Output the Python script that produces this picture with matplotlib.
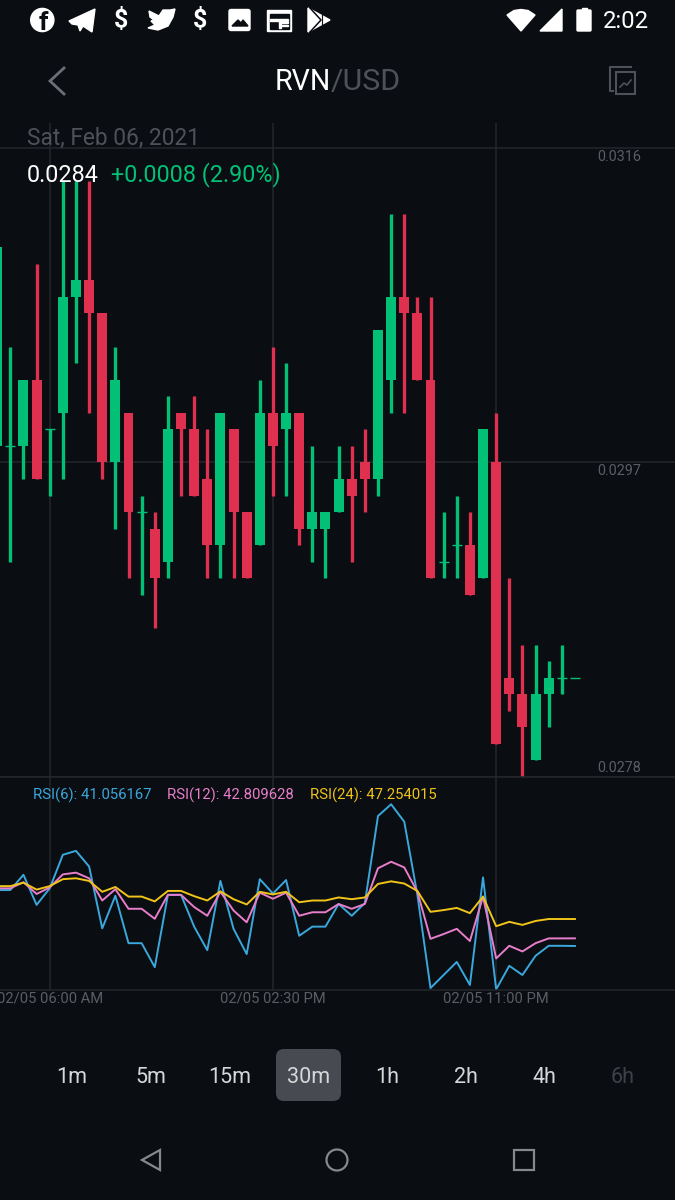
"""
RVN/USD 30m candles with RSI, dark mobile app screen
"""
import matplotlib

matplotlib.use("Agg")
import matplotlib.pyplot as plt
from matplotlib.patches import Circle, FancyBboxPatch, Polygon, Rectangle

plt.rcParams["font.family"] = ["Roboto", "DejaVu Sans"]

# candles, oldest first
opens = [0.0298, 0.0298, 0.0298, 0.0302, 0.0299, 0.0300, 0.0307, 0.0308, 0.0306, 0.0297, 0.0300,
         0.0294, 0.0293, 0.0291, 0.0300, 0.0299, 0.0296, 0.0292, 0.0299, 0.0294, 0.0292, 0.0300,
         0.0299, 0.0300, 0.0293, 0.0293, 0.0294, 0.0296, 0.0297, 0.0296, 0.0302, 0.0307, 0.0306,
         0.0302, 0.0291, 0.0292, 0.0292, 0.0290, 0.0297, 0.0284, 0.0283, 0.0279, 0.0283, 0.0284,
         0.0284]
closes = [0.0310, 0.0298, 0.0302, 0.0296, 0.0299, 0.0307, 0.0308, 0.0306, 0.0297, 0.0302, 0.0294,
          0.0294, 0.0290, 0.0299, 0.0299, 0.0295, 0.0292, 0.0300, 0.0294, 0.0290, 0.0300, 0.0298,
          0.0300, 0.0293, 0.0294, 0.0294, 0.0296, 0.0295, 0.0296, 0.0305, 0.0307, 0.0306, 0.0302,
          0.0290, 0.0291, 0.0292, 0.0289, 0.0299, 0.0280, 0.0283, 0.0281, 0.0283, 0.0284, 0.0284,
          0.0284]
highs = [0.0310, 0.0304, 0.0302, 0.0309, 0.0299, 0.0314, 0.0314, 0.0314, 0.0306, 0.0304, 0.0300,
         0.0295, 0.0294, 0.0301, 0.0300, 0.0301, 0.0299, 0.0300, 0.0299, 0.0294, 0.0302, 0.0304,
         0.0303, 0.0300, 0.0298, 0.0294, 0.0298, 0.0298, 0.0299, 0.0305, 0.0312, 0.0312, 0.0307,
         0.0307, 0.0294, 0.0295, 0.0294, 0.0299, 0.0300, 0.0290, 0.0286, 0.0286, 0.0285, 0.0286,
         0.0284]
lows = [0.0298, 0.0291, 0.0296, 0.0296, 0.0295, 0.0296, 0.0303, 0.0300, 0.0296, 0.0293, 0.0290,
        0.0289, 0.0287, 0.0290, 0.0295, 0.0295, 0.0290, 0.0290, 0.0290, 0.0290, 0.0292, 0.0295,
        0.0295, 0.0292, 0.0291, 0.0290, 0.0294, 0.0291, 0.0294, 0.0295, 0.0300, 0.0300, 0.0302,
        0.0290, 0.0290, 0.0290, 0.0289, 0.0290, 0.0280, 0.0282, 0.0278, 0.0279, 0.0281, 0.0283,
        0.0284]

rsi6 = [53.9, 53.9, 57.4, 50.5, 54.3, 62.0, 62.9, 59.3, 45.1, 52.6, 41.7, 41.7, 36.2, 52.8, 52.8,
        45.5, 40.1, 56.0, 45.0, 39.2, 56.4, 53.1, 56.2, 43.4, 45.5, 45.5, 50.7, 48.0, 50.9, 70.9,
        73.6, 69.6, 52.8, 31.4, 34.4, 37.4, 32.1, 56.8, 31.1, 36.5, 34.4, 38.8, 41.1, 41.1, 41.056]
rsi12 = [54.3, 54.3, 55.7, 53.0, 54.5, 57.5, 57.9, 56.6, 51.5, 54.1, 49.6, 49.6, 47.3, 52.8, 52.8,
         50.0, 48.0, 53.5, 49.2, 46.5, 53.3, 51.9, 53.3, 48.0, 48.8, 48.8, 50.7, 49.6, 50.7, 58.9,
         60.4, 59.1, 53.5, 42.7, 43.8, 45.0, 42.2, 52.4, 38.2, 41.1, 39.8, 41.7, 42.8, 42.8, 42.81]
rsi24 = [54.8, 54.8, 55.6, 54.0, 54.8, 56.4, 56.6, 56.0, 53.5, 54.6, 52.4, 52.4, 51.3, 53.7, 53.7,
         52.5, 51.5, 53.6, 51.8, 50.6, 53.5, 52.9, 53.5, 51.1, 51.5, 51.5, 52.2, 51.8, 52.2, 55.3,
         55.9, 55.4, 53.7, 48.9, 49.3, 49.8, 48.6, 52.4, 45.6, 46.6, 45.9, 46.8, 47.25, 47.25, 47.25]

price_ticks = [0.0316, 0.0297, 0.0278]
price_tick_labels = ["0.0316", "0.0297", "0.0278"]
time_ticks = [4, 21, 38]
time_tick_labels = ["02/05 06:00 AM", "02/05 02:30 PM", "02/05 11:00 PM"]
intervals = ["1m", "5m", "15m", "30m", "1h", "2h", "4h", "6h"]

BG = "#0a0d11"
GRID = "#24272c"
GREEN = "#02c076"
RED = "#e0304f"
GRAY = "#5a5d63"
DIM = "#4e5158"
ICON = "#6c6f75"
WHITE = "#ffffff"
W, H = 675, 1200
XLIM = (0.213, 51.62)


def px_axes(fig, top, bottom):
    return fig.add_axes([0, 1 - bottom / H, 1, (bottom - top) / H])


def draw_candles(ax):
    xs = range(len(opens))
    for i in xs:
        color = GREEN if closes[i] >= opens[i] else RED
        ax.vlines(i, lows[i], highs[i], color=color, linewidth=2.4, zorder=3)
        if opens[i] == closes[i]:
            ax.hlines(opens[i], i - 0.38, i + 0.38, color=color, linewidth=1.0, zorder=3)
        else:
            ax.bar(i, abs(closes[i] - opens[i]), width=0.76, bottom=min(opens[i], closes[i]),
                   color=color, linewidth=0, zorder=3)


def draw_status_icons(ui):
    # left notification icons
    ui.add_patch(Circle((42.3, 20), 11.6, color=WHITE))
    ui.text(43.5, 22.5, "f", color=BG, fontsize=19, fontweight="bold", ha="center", va="center")
    ui.add_patch(Polygon([(69, 21), (95, 9), (92, 32), (83, 26), (80, 31), (78, 25), (72, 24)], color=WHITE))
    ui.text(121, 20.5, "$", color=WHITE, fontsize=18, fontweight="bold", ha="center", va="center")
    ui.add_patch(Polygon([(149, 11), (159, 16), (163, 10), (170, 10), (175, 9), (173, 17), (168, 26),
                          (158, 30), (148, 28), (155, 25), (151, 21), (154, 20), (150, 17)], color=WHITE))
    ui.text(200, 20.5, "$", color=WHITE, fontsize=18, fontweight="bold", ha="center", va="center")
    ui.add_patch(FancyBboxPatch((229, 9.5), 21, 21, boxstyle="round,pad=0,rounding_size=2", color=WHITE))
    ui.add_patch(Polygon([(232, 26), (238, 20), (241, 23), (243, 20), (248, 26)], color=BG))
    ui.add_patch(Rectangle((267, 9.5), 24, 21, color=WHITE))
    ui.add_patch(Rectangle((269.5, 14), 19, 14.5, color=BG))
    ui.add_patch(Rectangle((270, 19), 18, 1.6, color=WHITE))
    ui.add_patch(Rectangle((279, 20), 1.6, 8, color=WHITE))
    ui.add_patch(Rectangle((282, 22), 6, 1.2, color=WHITE))
    ui.add_patch(Rectangle((282, 25), 6, 1.2, color=WHITE))
    ui.add_patch(Polygon([(308, 8), (330, 20), (308, 32)], color=WHITE))
    ui.plot([310, 321, 310], [8, 20, 32], color=BG, linewidth=1.1)
    ui.plot([322, 322], [14, 26], color=BG, linewidth=0.8)
    # right side indicators
    ui.add_patch(Polygon([(507, 15), (514, 10.5), (521, 9.5), (528, 10.5), (535, 15), (521, 31)], color=WHITE))
    ui.add_patch(Polygon([(540, 31), (562, 9), (562, 31)], color=WHITE))
    ui.add_patch(FancyBboxPatch((577, 10), 14, 21, boxstyle="round,pad=0,rounding_size=1", color=WHITE))
    ui.add_patch(Rectangle((582, 7.5), 5, 3, color=WHITE))
    ui.text(626, 21.5, "2:02", color=WHITE, fontsize=17.2, ha="center", va="center")


def draw_header(ui):
    ui.plot([64, 50, 64], [68, 81, 94], color=ICON, linewidth=2, solid_joinstyle="miter")
    ui.text(330.5, 82, "RVN", color=WHITE, fontsize=20.6, ha="right", va="center")
    ui.text(330.5, 82, "/USD", color=DIM, fontsize=21.8, ha="left", va="center")
    ui.plot([613, 610, 610, 631], [91, 91, 67, 67], color=DIM, linewidth=1.5)
    ui.add_patch(Rectangle((616, 72), 19, 22, fill=False, edgecolor=DIM, linewidth=1.5))
    ui.plot([620, 624, 627, 631], [87, 83, 85, 80], color=DIM, linewidth=1.2)
    ui.text(27, 138, "Sat, Feb 06, 2021", color=DIM, fontsize=16.4, va="center")
    ui.text(27, 175, "0.0284", color=WHITE, fontsize=16.8, va="center")
    ui.text(111, 175, "+0.0008 (2.90%)", color=GREEN, fontsize=16.8, va="center")
    ui.text(33, 795, "RSI(6): 41.056167", color="#3aa8dc", fontsize=10.7, va="center")
    ui.text(167, 795, "RSI(12): 42.809628", color="#e87ecb", fontsize=10.7, va="center")
    ui.text(310, 795, "RSI(24): 47.254015", color="#f0c419", fontsize=10.7, va="center")


def draw_footer(ui):
    ui.add_patch(FancyBboxPatch((276, 1049), 65, 52, boxstyle="round,pad=0,rounding_size=8",
                                facecolor="#474a51", edgecolor="none"))
    for i, label in enumerate(intervals):
        color = "#3e4147" if label == "6h" else "#d6d7d9"
        ui.text(72 + 78.7 * i, 1077.5, label, color=color, fontsize=15.5, ha="center", va="center")
    ui.add_patch(Polygon([(160, 1150), (142, 1160), (160, 1170)], fill=False, edgecolor="#85888c", linewidth=1.6))
    ui.add_patch(Circle((337, 1160), 10.5, fill=False, edgecolor="#85888c", linewidth=1.6))
    ui.add_patch(Rectangle((514, 1150), 20, 20, fill=False, edgecolor="#85888c", linewidth=1.6))


fig = plt.figure(figsize=(W / 100, H / 100), dpi=100, facecolor=BG)

# price panel
ax = px_axes(fig, 123, 777)
ax.set_facecolor(BG)
ax.set_xlim(*XLIM)
ax.set_ylim(0.0278, 0.03175)
ax.set_xticks(time_ticks)
ax.set_yticks(price_ticks)
ax.tick_params(length=0, labelbottom=False, labelleft=False)
ax.grid(True, color=GRID, linewidth=1.1, zorder=0)
ax.set_axisbelow(True)
for side in ax.spines.values():
    side.set_visible(False)
draw_candles(ax)
for tick, label, offset in zip(price_ticks, price_tick_labels, [-9, -9, 9]):
    ax.annotate(label, (1, tick), xycoords=("axes fraction", "data"), xytext=(-34, offset),
                textcoords="offset pixels", color=GRAY, fontsize=10.4, ha="right", va="center")

# RSI panel
rsi = px_axes(fig, 777, 990)
rsi.set_facecolor(BG)
rsi.patch.set_alpha(0)
rsi.set_xlim(*XLIM)
rsi.set_ylim(30.95, 79.86)
rsi.set_xticks(time_ticks)
rsi.set_xticklabels(time_tick_labels, color=GRAY, fontsize=10.6)
for label in rsi.get_xticklabels():
    label.set_x(label.get_position()[0] - 0.05)
rsi.set_yticks([])
rsi.tick_params(length=0, pad=1)
rsi.grid(True, axis="x", color=GRID, linewidth=1.1, zorder=0)
for name, side in rsi.spines.items():
    side.set_visible(name in ("top", "bottom"))
    side.set_color(GRID)
    side.set_linewidth(1.1)
x = range(len(rsi6))
rsi.plot(x, rsi6, color="#3aa8dc", linewidth=1.4, clip_on=False)
rsi.plot(x, rsi12, color="#e87ecb", linewidth=1.4, clip_on=False)
rsi.plot(x, rsi24, color="#f0c419", linewidth=1.4, clip_on=False)

# app chrome in screen pixels
ui = fig.add_axes([0, 0, 1, 1])
ui.set_xlim(0, W)
ui.set_ylim(H, 0)
ui.axis("off")
ui.patch.set_alpha(0)
draw_status_icons(ui)
draw_header(ui)
draw_footer(ui)

fig.savefig("out.png", dpi=100, facecolor=BG)
plt.close(fig)
